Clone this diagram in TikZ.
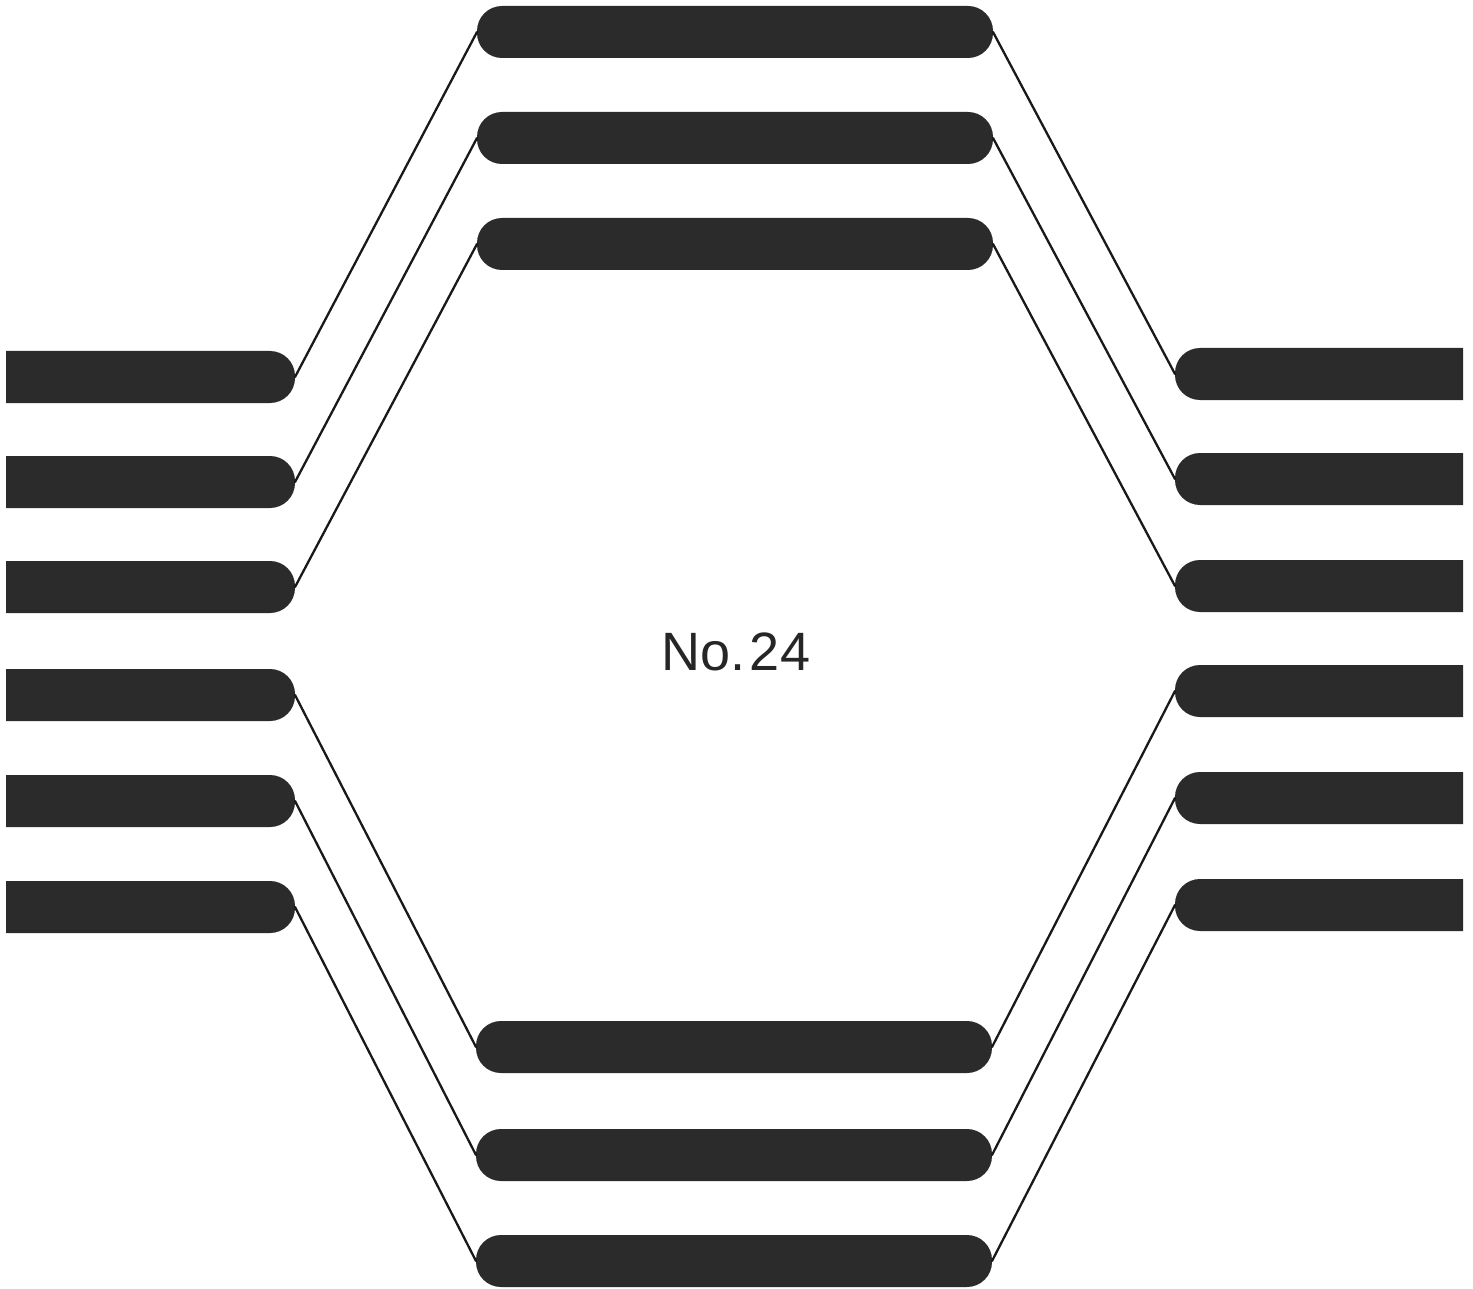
\documentclass[tikz,border=0pt]{standalone}
\usepackage{fontspec}
\setmainfont{Liberation Sans}
\definecolor{barc}{gray}{0.17}
\begin{document}
\begin{tikzpicture}[x=1pt,y=-1pt,
  bar/.style={fill=barc,draw=none},
  link/.style={line width=2.3pt,draw=black!90,line cap=round},
  label/.style={font=\fontsize{54}{60}\selectfont,text=black!85,inner sep=0pt}]
\useasboundingbox (0,0) rectangle (1473,1289);
% left bars
\foreach \i/\c in {1/377,2/482,3/587,4/695,5/801,6/907}{
  \fill[bar] (6,\c-26) [rounded corners=25pt] -- (295,\c-26) -- (295,\c+26) [sharp corners] -- (6,\c+26) -- cycle;
  \coordinate (L\i) at (295,\c);
}
% right bars
\foreach \i/\c in {1/374,2/479,3/586,4/691,5/798,6/905}{
  \fill[bar] (1463,\c-26) [rounded corners=25pt] -- (1175,\c-26) -- (1175,\c+26) [sharp corners] -- (1463,\c+26) -- cycle;
  \coordinate (R\i) at (1175,\c);
}
% top bars
\foreach \i/\c in {1/32,2/138,3/244}{
  \fill[bar,rounded corners=25pt] (477,\c-26) rectangle (993,\c+26);
  \coordinate (T\i w) at (477,\c);
  \coordinate (T\i e) at (993,\c);
}
% bottom bars
\foreach \i/\c in {1/1047,2/1155,3/1261}{
  \fill[bar,rounded corners=25pt] (476,\c-26) rectangle (992,\c+26);
  \coordinate (B\i w) at (476,\c);
  \coordinate (B\i e) at (992,\c);
}
% connectors
\draw[link] (L1) -- (T1w);
\draw[link] (L2) -- (T2w);
\draw[link] (L3) -- (T3w);
\draw[link] (T1e) -- (R1);
\draw[link] (T2e) -- (R2);
\draw[link] (T3e) -- (R3);
\draw[link] (L4) -- (B1w);
\draw[link] (L5) -- (B2w);
\draw[link] (L6) -- (B3w);
\draw[link] (B1e) -- (R4);
\draw[link] (B2e) -- (R5);
\draw[link] (B3e) -- (R6);
\node[label] (title) at (736,652) {No.\kern4pt24};
\end{tikzpicture}
\end{document}
